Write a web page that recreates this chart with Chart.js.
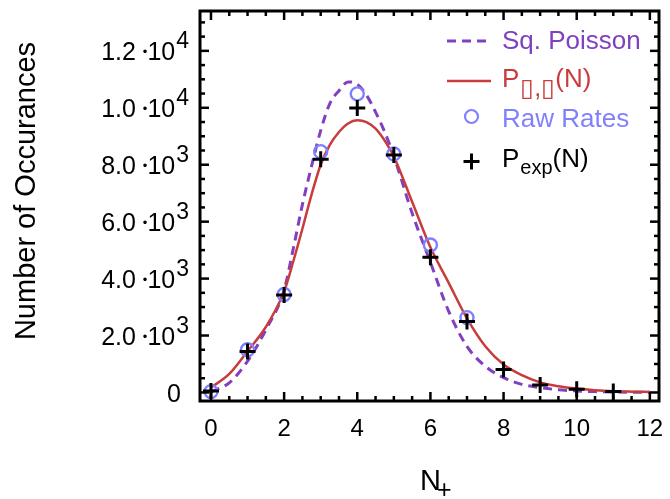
<!DOCTYPE html>
<html>
<head>
<meta charset="utf-8">
<script src="https://cdn.jsdelivr.net/npm/chart.js@4.4.1/dist/chart.umd.min.js"></script>
<style>
  html, body { margin: 0; padding: 0; background: #fff; }
  #wrap { width: 670px; height: 499px; position: relative; }
</style>
</head>
<body>
<div id="wrap"><canvas id="c"></canvas></div>
<script>
// Occurrence distribution of N+ : fitted curves and measured rates
const curveN     = [0, 0.5, 1, 1.5, 2, 2.25, 2.5, 2.75, 3, 3.25, 3.5, 3.75, 4, 4.25, 4.5, 4.75, 5, 5.5, 6, 6.5, 7, 7.5, 8, 8.5, 9, 9.5, 10, 10.5, 11, 11.5, 12];
const sqPoisson  = [20, 340, 1100, 2200, 3600, 5050, 6600, 7950, 9200, 10150, 10600, 10910, 10830, 10450, 9850, 9150, 8300, 6300, 4570, 2850, 1620, 920, 520, 285, 170, 95, 55, 30, 18, 10, 5];
const pModel     = [170, 650, 1450, 2300, 3550, 4600, 5750, 6950, 8000, 8700, 9150, 9450, 9560, 9500, 9270, 8850, 8290, 6700, 5100, 3850, 2600, 1620, 980, 610, 355, 220, 135, 80, 45, 28, 18];

const rawN       = [0, 1, 2, 3, 4, 5, 6, 7];
const rawRates   = [30, 1500, 3440, 8460, 10490, 8380, 5180, 2630];

const expN       = [0, 1, 2, 3, 4, 5, 6, 7, 8, 9, 10, 11];
const pExp       = [50, 1440, 3420, 8190, 9990, 8340, 4750, 2490, 810, 260, 110, 30];

const xTicks         = [0, 2, 4, 6, 8, 10, 12];
const xTickLabels    = ['0', '2', '4', '6', '8', '10', '12'];
const yTicks         = [0, 2000, 4000, 6000, 8000, 10000, 12000];
const yTickMantissa  = ['0', '2.0', '4.0', '6.0', '8.0', '1.0', '1.2'];
const yTickExponent  = ['', '3', '3', '3', '3', '4', '4'];

const PURPLE = '#8040c0';
const RED    = '#c83c3c';
const BLUE   = '#8080ff';
const FONT   = '"Liberation Sans", Arial, Helvetica, sans-serif';

const pts = (xs, ys) => xs.map((x, i) => ({ x: x, y: ys[i] }));

// Frame, inward ticks, tick labels, axis titles and legend
const decor = {
  id: 'decor',
  afterDraw(chart) {
    const ctx = chart.ctx;
    const a = chart.chartArea;
    const xs = chart.scales.x, ys = chart.scales.y;
    ctx.save();
    ctx.strokeStyle = '#000';
    ctx.lineCap = 'butt';

    // minor + major ticks on all four sides
    ctx.lineWidth = 2.5;
    const seg = (x1, y1, x2, y2) => { ctx.beginPath(); ctx.moveTo(x1, y1); ctx.lineTo(x2, y2); ctx.stroke(); };
    for (let v = 0; v <= 12.001; v += 0.5) {
      const major = Math.abs(v / 2 - Math.round(v / 2)) < 1e-6;
      const len = major ? 9 : 5;
      const px = xs.getPixelForValue(v);
      seg(px, a.bottom, px, a.bottom - len);
      seg(px, a.top, px, a.top + len);
    }
    for (let v = 0; v <= 13000; v += 500) {
      const major = v % 2000 === 0;
      const len = major ? 9 : 5;
      const py = ys.getPixelForValue(v);
      seg(a.left, py, a.left + len, py);
      seg(a.right, py, a.right - len, py);
    }
    ctx.lineWidth = 3;
    ctx.strokeRect(a.left, a.top, a.right - a.left, a.bottom - a.top);

    ctx.fillStyle = '#000';
    ctx.textBaseline = 'alphabetic';
    // x tick labels
    ctx.font = '24px ' + FONT;
    ctx.textAlign = 'center';
    xTicks.forEach((v, i) => ctx.fillText(xTickLabels[i], xs.getPixelForValue(v), 436));

    // y tick labels: mantissa •10 with raised exponent
    ctx.textAlign = 'left';
    yTicks.forEach((v, i) => {
      const py = ys.getPixelForValue(v);
      if (!yTickExponent[i]) {
        ctx.font = '25px ' + FONT;
        const w0 = ctx.measureText(yTickMantissa[i]).width;
        ctx.fillText(yTickMantissa[i], 181 - w0, py + 9.5);
        return;
      }
      const parts = [
        { t: yTickMantissa[i] + ' ', f: '25px', dy: 9.5 },
        { t: '\u2022', f: '13px', dy: 5 },
        { t: '10', f: '25px', dy: 9.5 },
        { t: yTickExponent[i], f: '23px', dy: -3 }
      ];
      let total = 0;
      parts.forEach(p => { ctx.font = p.f + ' ' + FONT; p.w = ctx.measureText(p.t).width; total += p.w; });
      let x = 189 - total - 1;
      parts.forEach((p, k) => {
        ctx.font = p.f + ' ' + FONT;
        ctx.fillText(p.t, x, py + p.dy);
        x += p.w + (k === 2 ? 1 : 0);
      });
    });

    // axis titles
    ctx.font = '29px ' + FONT;
    ctx.fillText('N', 420, 490);
    ctx.font = '25px ' + FONT;
    ctx.fillText('+', 437, 498);

    ctx.save();
    ctx.translate(35, 191);
    ctx.rotate(-Math.PI / 2);
    ctx.font = '29px ' + FONT;
    ctx.textAlign = 'center';
    ctx.fillText('Number of Occurances', 0, 0);
    ctx.restore();

    // legend
    const tx = 502;
    ctx.textAlign = 'left';
    // Sq. Poisson
    ctx.strokeStyle = PURPLE;
    ctx.lineWidth = 3;
    ctx.setLineDash([9, 6]);
    seg(447, 41, 488, 41);
    ctx.setLineDash([]);
    ctx.fillStyle = PURPLE;
    ctx.font = '26px ' + FONT;
    ctx.fillText('Sq. Poisson', tx, 48.5);

    // P(N) model
    ctx.strokeStyle = RED;
    ctx.lineWidth = 2.5;
    seg(447, 81, 491, 81);
    ctx.fillStyle = RED;
    ctx.font = '26px ' + FONT;
    ctx.fillText('P', tx, 87);
    let w = ctx.measureText('P').width;
    ctx.font = '25px ' + FONT;
    ctx.fillText('\u25AF,\u25AF', tx + w + 1, 96);
    w += 1 + ctx.measureText('\u25AF,\u25AF').width;
    ctx.font = '26px ' + FONT;
    ctx.fillText('(N)', tx + w, 87);

    // Raw Rates
    ctx.strokeStyle = BLUE;
    ctx.lineWidth = 2.2;
    ctx.beginPath();
    ctx.arc(471.5, 116.5, 6.5, 0, Math.PI * 2);
    ctx.stroke();
    ctx.fillStyle = BLUE;
    ctx.font = '26px ' + FONT;
    ctx.fillText('Raw Rates', tx, 127);

    // P_exp(N)
    ctx.strokeStyle = '#000';
    ctx.lineWidth = 3;
    seg(463.5, 161.5, 479.5, 161.5);
    seg(471.5, 153.5, 471.5, 169.5);
    ctx.fillStyle = '#000';
    ctx.font = '26px ' + FONT;
    ctx.fillText('P', tx, 167);
    w = ctx.measureText('P').width;
    ctx.font = '20px ' + FONT;
    ctx.fillText('exp', tx + w + 1, 174);
    w += 1 + ctx.measureText('exp').width;
    ctx.font = '26px ' + FONT;
    ctx.fillText('(N)', tx + w, 167);

    ctx.restore();
  }
};

new Chart(document.getElementById('c'), {
  type: 'scatter',
  data: {
    datasets: [
      {
        label: 'P_exp(N)',
        data: pts(expN, pExp),
        showLine: false,
        pointStyle: 'cross',
        pointRadius: 8,
        pointBorderWidth: 3,
        borderColor: '#000',
        backgroundColor: '#000',
        order: 0
      },
      {
        label: 'Raw Rates',
        data: pts(rawN, rawRates),
        showLine: false,
        pointStyle: 'circle',
        pointRadius: 6.5,
        pointBorderWidth: 2.4,
        borderColor: BLUE,
        backgroundColor: 'rgba(0,0,0,0)',
        order: 1
      },
      {
        label: 'P(N)',
        data: pts(curveN, pModel),
        showLine: true,
        pointRadius: 0,
        borderColor: RED,
        borderWidth: 2.5,
        cubicInterpolationMode: 'monotone',
        order: 2
      },
      {
        label: 'Sq. Poisson',
        data: pts(curveN, sqPoisson),
        showLine: true,
        pointRadius: 0,
        borderColor: PURPLE,
        borderWidth: 3,
        borderDash: [9, 6],
        cubicInterpolationMode: 'monotone',
        order: 3
      }
    ]
  },
  options: {
    responsive: true,
    maintainAspectRatio: false,
    animation: false,
    devicePixelRatio: 1,
    layout: { padding: { top: 8, right: 8, left: 0, bottom: 0 } },
    plugins: { legend: { display: false }, tooltip: { enabled: false } },
    scales: {
      x: {
        type: 'linear',
        min: -0.3,
        max: 12.25,
        afterBuildTicks: s => { s.ticks = xTicks.map(v => ({ value: v })); },
        afterFit: s => { s.height = 98; },
        ticks: { display: false },
        grid: { display: false },
        border: { display: false }
      },
      y: {
        type: 'linear',
        min: -300,
        max: 13400,
        afterBuildTicks: s => { s.ticks = yTicks.map(v => ({ value: v })); },
        afterFit: s => { s.width = 200; },
        ticks: { display: false },
        grid: { display: false },
        border: { display: false }
      }
    }
  },
  plugins: [decor]
});
</script>
</body>
</html>
